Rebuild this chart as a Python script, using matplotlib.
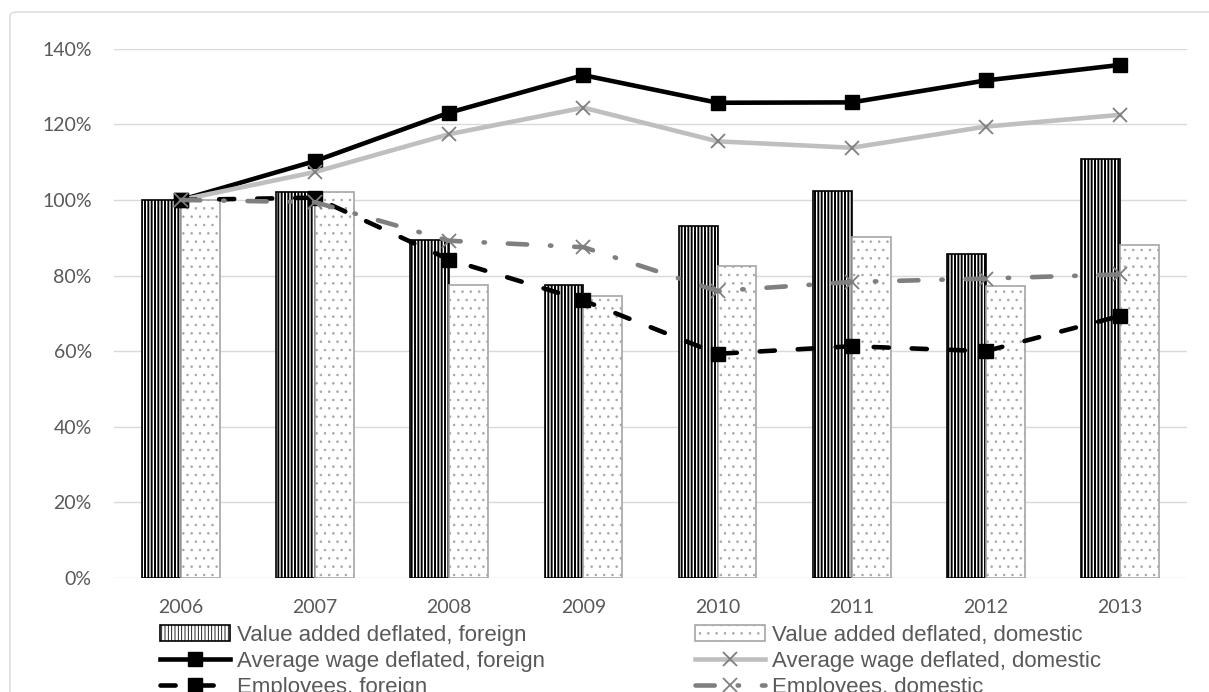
import numpy as np
import matplotlib
matplotlib.use("Agg")
import matplotlib.pyplot as plt
from matplotlib import font_manager
from matplotlib.patches import FancyBboxPatch
from matplotlib.ticker import FuncFormatter

# --- DATA (% of 2006) ---
years = ["2006", "2007", "2008", "2009", "2010", "2011", "2012", "2013"]
va_foreign = [100, 102.2, 89.5, 77.4, 93.1, 102.3, 85.8, 110.9]
va_domestic = [100, 102.0, 77.4, 74.6, 82.4, 90.2, 77.3, 88.2]
wage_foreign = [100, 110.3, 123.1, 133.0, 125.7, 125.8, 131.6, 135.7]
wage_domestic = [100, 107.4, 117.4, 124.4, 115.5, 113.8, 119.4, 122.5]
emp_foreign = [100, 100.6, 84.2, 73.4, 59.3, 61.3, 60.0, 69.3]
emp_domestic = [100, 99.4, 89.2, 87.5, 75.9, 78.3, 79.2, 80.3]

labels = ["Value added deflated, foreign", "Value added deflated, domestic",
          "Average wage deflated, foreign", "Average wage deflated, domestic",
          "Employees, foreign", "Employees, domestic"]


def pick_font(cands):
    for c in cands:
        try:
            font_manager.findfont(font_manager.FontProperties(family=c), fallback_to_default=False)
            return c
        except Exception:
            pass
    return "DejaVu Sans"


tick_font = pick_font(["Lato", "Open Sans", "DejaVu Sans"])
leg_font = pick_font(["Liberation Sans", "Arial", "DejaVu Sans"])

TXT = "#595959"

fig = plt.figure(figsize=(12.09, 6.92), dpi=100)
ax = fig.add_axes([114 / 1209, 1 - 578 / 692, (1187 - 114) / 1209, (578 - 48.7) / 692])

# rahmen um das ganze diagramm
border = FancyBboxPatch((10 / 1209, -0.2), 1.2, 1.2 - 12 / 692,
                        boxstyle="round,pad=0,rounding_size=0.006",
                        transform=fig.transFigure, fc="none", ec="#d9d9d9", lw=1.0, zorder=0)
fig.patches.append(border)

x = np.arange(len(years))
w = 0.29
plt.rcParams["hatch.linewidth"] = 1.4
b1 = ax.bar(x - w / 2, va_foreign, w, color="white", edgecolor="black", hatch="|||||",
            linewidth=1.2, zorder=2, label=labels[0])
plt.rcParams["hatch.linewidth"] = 0.6
b2 = ax.bar(x + w / 2, va_domestic, w, color="white", edgecolor="#a6a6a6", hatch="..",
            linewidth=1.2, zorder=2, label=labels[1])

l1, = ax.plot(x, wage_foreign, color="black", lw=3.3, marker="s", ms=10,
              mfc="black", mec="black", zorder=4, label=labels[2])
l2, = ax.plot(x, wage_domestic, color="#bfbfbf", lw=3.3, marker="x", ms=10,
              mec="#7f7f7f", mew=1.3, zorder=4, label=labels[3])
l3, = ax.plot(x, emp_foreign, color="black", lw=3.3, marker="s", ms=10,
              mfc="black", mec="black", zorder=5, label=labels[4],
              dashes=(3.3, 5.0), dash_capstyle="round")
l4, = ax.plot(x, emp_domestic, color="#7f7f7f", lw=3.3, marker="x", ms=10,
              mec="#7f7f7f", mew=1.3, zorder=5, label=labels[5],
              dashes=(4.2, 5.0, 0.3, 5.0), dash_capstyle="round")

ax.set_xlim(-0.5, 7.5)
ax.set_ylim(0, 140)
ax.set_yticks(np.arange(0, 141, 20))
ax.yaxis.set_major_formatter(FuncFormatter(lambda v, p: f"{v:.0f}%"))
ax.set_xticks(x)
ax.set_xticklabels(years)
ax.grid(axis="y", color="#d9d9d9", lw=1.0, zorder=0)
ax.set_axisbelow(True)
for s in ax.spines.values():
    s.set_visible(False)
ax.tick_params(length=0, labelsize=14, labelcolor=TXT)
ax.tick_params(axis="y", pad=16)
ax.tick_params(axis="x", pad=15)
for t in ax.get_xticklabels() + ax.get_yticklabels():
    t.set_fontfamily(tick_font)

leg_kw = dict(frameon=False, loc="upper left", borderpad=0, borderaxespad=0,
              handlelength=3.15, handletextpad=0.33, labelspacing=0.23,
              numpoints=1, prop={"family": leg_font, "size": 16}, labelcolor=TXT)
leg1 = fig.legend([b1, l1, l3], [labels[0], labels[2], labels[4]],
                  bbox_to_anchor=(160 / 1209, 1 - 625 / 692), **leg_kw)
leg2 = fig.legend([b2, l2, l4], [labels[1], labels[3], labels[5]],
                  bbox_to_anchor=(695 / 1209, 1 - 625 / 692), **leg_kw)

fig.savefig("out.png", dpi=100)
